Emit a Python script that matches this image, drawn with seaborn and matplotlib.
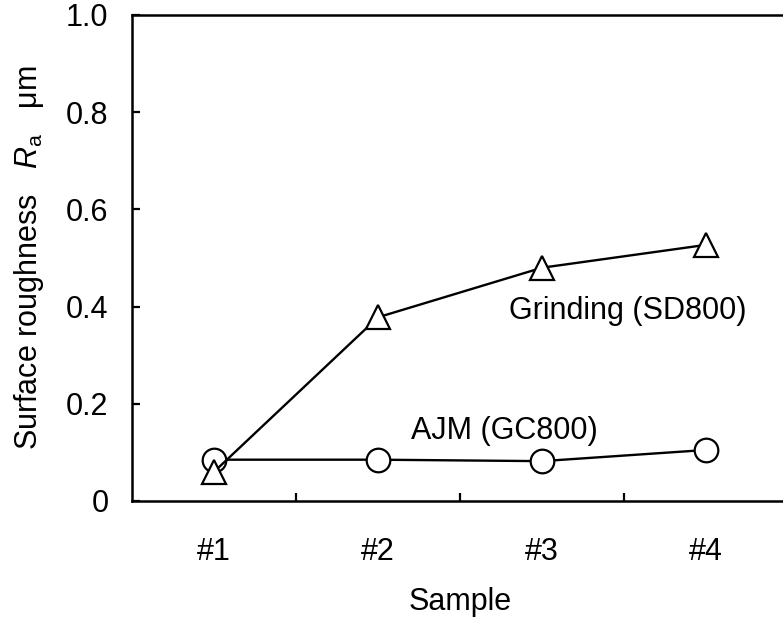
import pandas as pd
import numpy as np
import matplotlib
matplotlib.use('Agg')
import matplotlib.pyplot as plt
import seaborn as sns

samples = ['#1', '#2', '#3', '#4']
ajm = [0.085, 0.085, 0.082, 0.105]
grinding = [0.06, 0.378, 0.48, 0.527]

pos = list(range(1, len(samples) + 1))
df = pd.DataFrame({'pos': pos * 2,
                   'Ra': ajm + grinding,
                   'method': ['AJM'] * 4 + ['Grinding'] * 4})

sns.set_style('ticks')
plt.rcParams['font.family'] = ['Liberation Sans', 'DejaVu Sans']
plt.rcParams['mathtext.fontset'] = 'custom'
plt.rcParams['mathtext.it'] = 'Liberation Sans:italic'
plt.rcParams['mathtext.rm'] = 'Liberation Sans'
plt.rcParams['text.color'] = 'black'
plt.rcParams['axes.labelcolor'] = 'black'
plt.rcParams['xtick.color'] = 'black'
plt.rcParams['ytick.color'] = 'black'
plt.rcParams['axes.edgecolor'] = 'black'

fig = plt.figure(figsize=(7.83, 6.17), dpi=100)
ax = fig.add_axes([132/783, 1 - 501/617, 656/783, 486/617])

sns.lineplot(data=df, x='pos', y='Ra', hue='method', style='method',
             markers={'AJM': 'o', 'Grinding': '^'}, dashes=False,
             palette={'AJM': 'black', 'Grinding': 'black'},
             markersize=17, markerfacecolor='white', markeredgecolor='black',
             markeredgewidth=1.6, linewidth=1.7, legend=False, ax=ax)

ax.set_xlim(0.5, 4.5)
ax.set_ylim(0, 1.0)
ax.set_xticks(pos)
ax.set_xticklabels(samples)
ax.set_xticks([1.5, 2.5, 3.5], minor=True)
ax.tick_params(axis='x', which='major', length=0, pad=26, labelsize=22)
ax.tick_params(axis='x', which='minor', direction='in', length=6, width=1.6)
ax.set_yticks([0, 0.2, 0.4, 0.6, 0.8, 1.0])
ax.set_yticklabels(['0', '0.2', '0.4', '0.6', '0.8', '1.0'])
ax.tick_params(axis='y', direction='in', length=6, width=1.6, pad=17, labelsize=22)

for s in ax.spines.values():
    s.set_linewidth(1.8)
    s.set_visible(True)

ax.text(3.52, 0.39, 'Grinding (SD800)', fontsize=22, ha='center', va='center')
ax.text(2.77, 0.144, 'AJM (GC800)', fontsize=22, ha='center', va='center')

ax.set_xlabel('Sample', fontsize=22, labelpad=14)
ax.set_ylabel(r'Surface roughness   $R_{\mathrm{a}}$   μm', fontsize=22, labelpad=14)

fig.savefig('out.png', dpi=100)
